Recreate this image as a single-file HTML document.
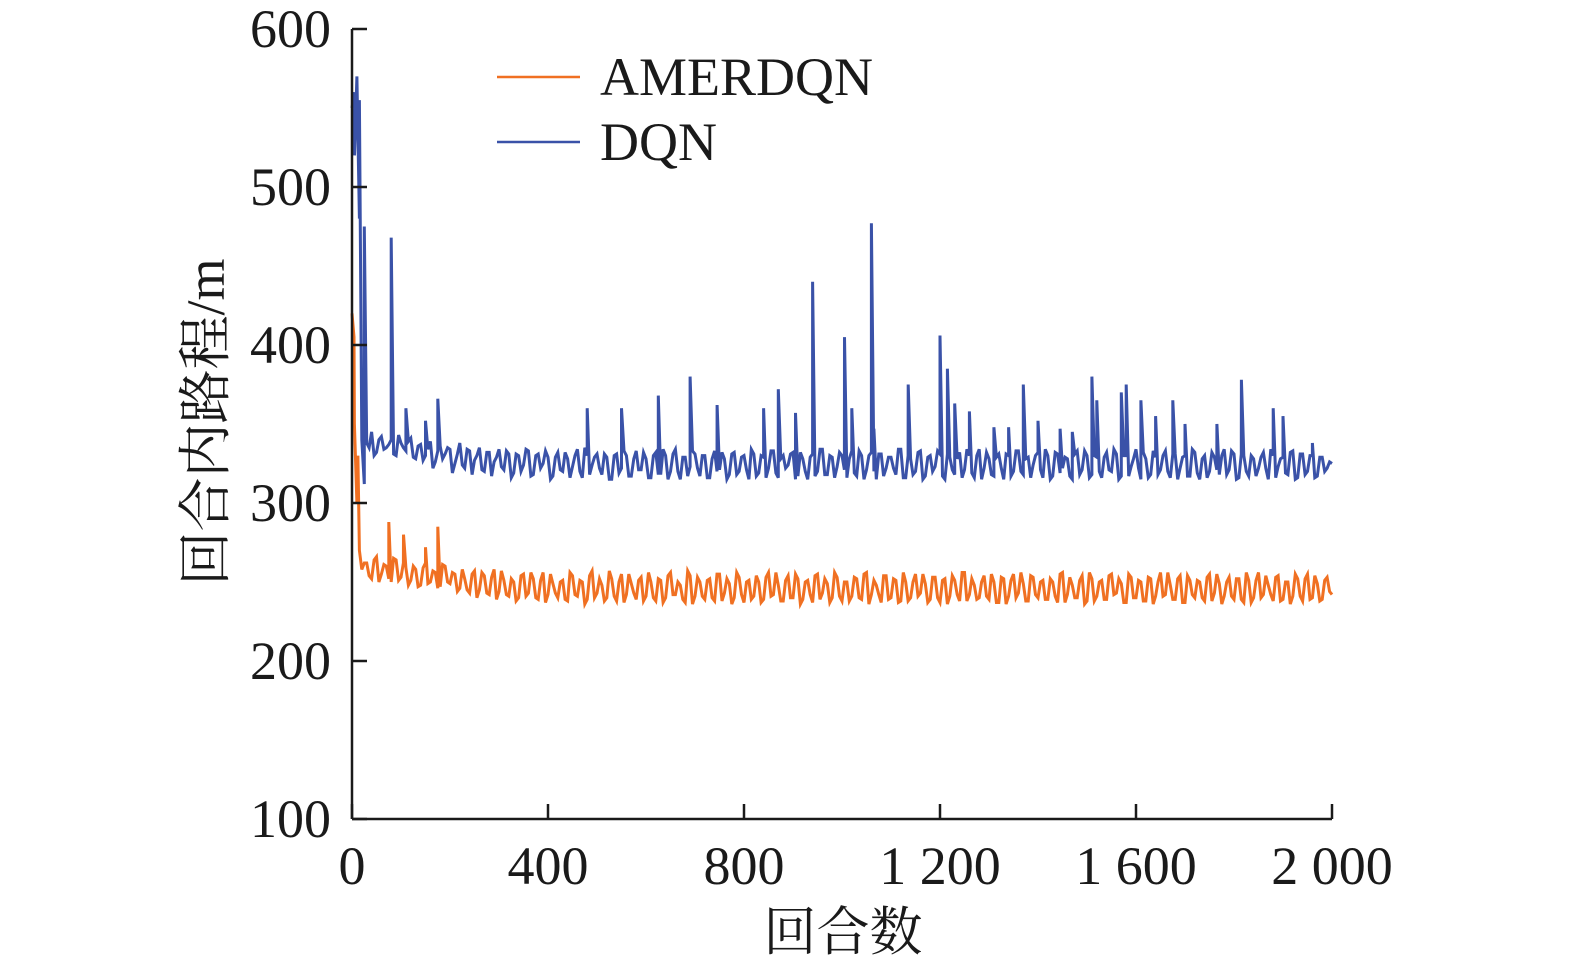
<!DOCTYPE html>
<html><head><meta charset="utf-8">
<style>
html,body{margin:0;padding:0;background:#fff;}
svg{display:block;}
.tk{font-family:"Liberation Serif","Noto Serif CJK SC",serif;font-size:54px;fill:#1a1a1a;}
.ttl{font-family:"Liberation Serif","Noto Serif CJK SC",serif;font-size:54px;fill:#1a1a1a;}
</style></head>
<body>
<svg id="chart" width="1575" height="971" viewBox="0 0 1575 971" xmlns="http://www.w3.org/2000/svg">
<g id="plot"></g>
<g id="axes"></g>
<g id="legend">
  <line x1="497" y1="77" x2="580" y2="77" stroke="#f07022" stroke-width="2.5"/>
  <text class="ttl" x="600" y="95">AMERDQN</text>
  <line x1="497" y1="142" x2="580" y2="142" stroke="#3a52a8" stroke-width="2.5"/>
  <text class="ttl" x="600" y="160">DQN</text>
</g>
<text class="ttl" x="843" y="950" text-anchor="middle" style="font-size:53px">回合数</text>
<text class="ttl" transform="translate(224,422) rotate(-90)" text-anchor="middle">回合内路程/m</text>
</svg>
<script>
const xTicks=[0,400,800,1200,1600,2000];
const xTickLabels=["0","400","800","1 200","1 600","2 000"];
const yTicks=[100,200,300,400,500,600];
const yTickLabels=["100","200","300","400","500","600"];
const step=10;
const dqnBase=[550,570,340,
338,345,332,342,335,340,330,338,333,341,
328,337,330,339,326,336,331,334,325,338,
322,333,327,335,320,332,326,334,321,331,
319,330,324,333,318,331,325,329,317,332,
320,328,323,334,316,330,324,331,318,329,
315,331,322,330,317,333,321,328,316,332,
318,330,320,334,315,329,323,331,317,330,
316,333,321,328,318,332,320,330,315,331,
319,329,322,333,316,330,324,332,317,328,
315,331,320,334,318,329,323,330,316,333,
317,330,321,332,315,331,322,329,318,334,
316,328,320,333,317,330,323,331,315,329,
318,332,321,330,316,334,322,328,317,331,
315,330,320,333,318,329,324,332,316,330,
317,331,322,328,315,333,321,330,318,329,
316,332,320,331,317,330,323,334,315,328,
318,329,321,333,316,331,322,330,317,332,
315,330,320,329,318,334,321,331,316,330,
317,328,322,332,315,330,323,329,318,333,
316,331,320,330,317,329,322,325];
const dqnAlt=[560,480,312,
335,330,340,334,337,331,343,335,339,329,
336,327,334,322,333,328,335,319,331,324,
334,318,330,321,332,317,329,323,333,316,
331,320,334,317,330,322,333,315,329,321,
332,316,330,320,335,318,329,322,331,315,
330,319,333,317,328,321,332,316,330,318,
334,315,331,320,329,317,333,322,330,316,
328,320,332,315,331,318,329,321,334,317,
330,316,333,319,328,322,331,315,332,320,
329,317,334,318,330,316,332,321,328,319,
333,315,330,320,331,317,329,322,334,316,
330,318,332,315,329,320,333,317,331,321,
328,316,334,319,330,315,332,318,329,322,
331,317,333,320,328,316,330,321,334,315,
332,319,329,317,331,318,333,316,330,320,
329,321,334,315,330,317,328,322,332,316,
333,318,330,320,331,315,329,317,334,319,
328,316,332,321,330,318,333,315,331,320,
330,317,329,322,334,316,328,319,332,315,
331,318,330,316,329,320,326];
const dqnSpikeEp=[5,15,25,80,110,150,175,480,550,625,690,745,840,870,905,940,1005,1020,1060,1065,1135,1200,1215,1230,1260,1310,1340,1370,1400,1445,1470,1510,1520,1570,1580,1610,1640,1675,1700,1765,1815,1880,1900,1960];
const dqnSpikeVal=[520,555,475,468,360,352,366,360,360,368,380,362,360,372,357,440,405,360,477,347,375,406,385,363,358,348,348,375,352,347,345,380,365,370,375,365,355,365,350,350,378,360,355,338];
const amerBase=[420,300,258,
262,252,266,255,260,250,264,253,259,251,
258,248,262,250,256,247,260,249,255,246,
252,243,257,245,254,242,258,244,251,241,
250,240,255,243,252,239,256,242,249,240,
251,238,254,241,250,239,257,243,248,240,
252,238,255,242,249,239,253,241,250,238,
251,240,256,242,248,237,254,241,250,239,
252,238,255,243,249,240,253,237,251,241,
250,239,256,242,248,238,254,240,252,239,
251,237,255,243,249,240,253,238,250,241,
252,239,256,242,248,237,254,240,251,238,
250,240,255,243,249,239,253,237,252,241,
251,238,256,242,248,240,254,239,250,237,
252,241,255,243,249,238,253,240,251,239,
250,237,256,242,248,240,254,238,252,241,
251,239,255,243,249,237,253,240,250,238,
252,241,256,242,248,239,254,237,251,240,
250,238,255,243,249,241,253,239,252,237,
251,240,256,242,248,238,254,239,250,241,
252,238,255,240,249,239,253,242];
const amerAlt=[350,270,262,
254,264,250,261,252,265,251,262,248,260,
247,259,249,257,246,261,250,256,244,258,
245,255,240,256,243,253,239,257,242,252,
238,254,241,256,240,251,237,255,243,250,
239,256,242,251,236,254,240,252,238,257,
241,250,237,255,243,251,238,256,240,252,
237,254,242,250,239,257,236,253,241,251,
240,255,238,252,236,256,242,250,239,254,
237,253,241,256,238,251,240,255,236,250,
242,254,239,252,237,256,241,250,238,253,
240,255,236,251,242,254,239,252,237,256,
238,250,241,255,237,253,240,251,236,254,
242,256,238,252,239,250,241,255,237,253,
236,251,240,256,238,254,242,250,239,252,
241,255,237,253,240,251,236,256,238,250,
239,254,242,252,237,255,240,251,238,253,
236,250,241,256,239,252,237,254,242,251,
240,253,238,255,236,250,241,252,239,256,
237,251,240,254,242,253,238,250,236,255,
241,252,239,254,238,251,244];
const amerSpikeEp=[4,12,75,105,150,175];
const amerSpikeVal=[405,330,288,280,272,285];

const X0=352,X1=1332,Y0=819,Y1=29;
const xs=v=>X0+(v-0)/(2000-0)*(X1-X0);
const ys=v=>Y0-(v-100)/(600-100)*(Y0-Y1);
const NS="http://www.w3.org/2000/svg";
function mk(tag,attrs,parent){const e=document.createElementNS(NS,tag);for(const k in attrs)e.setAttribute(k,attrs[k]);parent.appendChild(e);return e;}

function buildPts(base,alt,spE,spV){
  const pts=base.map((v,i)=>[i*step,v]);
  alt.forEach((v,i)=>pts.push([i*step+step/2,v]));
  spE.forEach((e,i)=>pts.push([e+0.01,spV[i]]));
  pts.sort((a,b)=>a[0]-b[0]);
  return pts.map(p=>xs(p[0]).toFixed(1)+","+ys(p[1]).toFixed(1)).join(" ");
}
const plot=document.getElementById('plot');
const l1=mk('polyline',{points:buildPts(amerBase,amerAlt,amerSpikeEp,amerSpikeVal),fill:"none",stroke:"#f07022","stroke-width":"3","stroke-linejoin":"miter"},plot);


const l2=mk('polyline',{points:buildPts(dqnBase,dqnAlt,dqnSpikeEp,dqnSpikeVal),fill:"none",stroke:"#3a52a8","stroke-width":"3","stroke-linejoin":"miter"},plot);



const axes=document.getElementById('axes');
const ya=mk('line',{x1:X0,y1:Y1,x2:X0,y2:Y0,stroke:"#1a1a1a","stroke-width":"2.5"},axes);


const xa=mk('line',{x1:X0,y1:Y0,x2:X1,y2:Y0,stroke:"#1a1a1a","stroke-width":"2.5"},axes);


yTicks.forEach((v,i)=>{
  const t=mk('line',{x1:X0,y1:ys(v),x2:X0+15,y2:ys(v),stroke:"#1a1a1a","stroke-width":"2.5"},axes);
  
  
  const tx=mk('text',{class:"tk",x:331,y:ys(v)+18,"text-anchor":"end"},axes);
  tx.textContent=yTickLabels[i];
  
  
});
xTicks.forEach((v,i)=>{
  const t=mk('line',{x1:xs(v),y1:Y0,x2:xs(v),y2:Y0-15,stroke:"#1a1a1a","stroke-width":"2.5"},axes);
  
  
  const tx=mk('text',{class:"tk",x:xs(v),y:884,"text-anchor":"middle"},axes);
  tx.textContent=xTickLabels[i];
  
  
});
</script>
</body></html>
